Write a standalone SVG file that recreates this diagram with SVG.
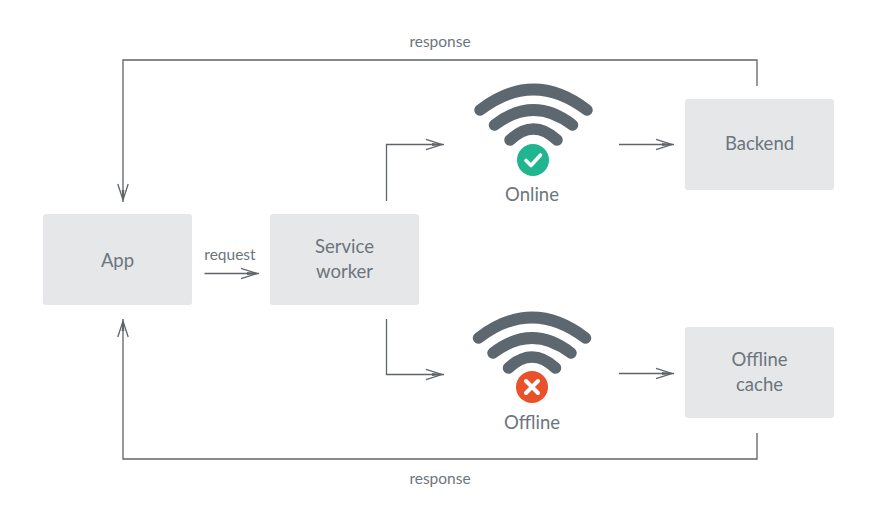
<svg xmlns="http://www.w3.org/2000/svg" width="880" height="519" viewBox="0 0 880 519">
<defs>
<marker id="arr" markerUnits="userSpaceOnUse" markerWidth="22" markerHeight="14" refX="20" refY="7" orient="auto">
<path d="M2 1.800 L18 7 L2 12.200 M18 7 L8 7" fill="none" stroke="#5f6468" stroke-width="1.300"/>
<path d="M18 7 L8 5.600 L8 8.400 Z" fill="#5f6468"/>
</marker>
<g id="wifi" fill="none" stroke="#5d6770" stroke-linecap="round" stroke-width="11.500">
<path d="M-53.500 -15 Q0 -56 53.500 -15"/>
<path d="M-39 0 Q0 -30 39 0"/>
<path d="M-23.500 15 Q0 -7 23.500 15"/>
</g>
</defs>
<style>
.n{fill:#e6e7e9}
.t{font-family:Lato,"Liberation Sans",sans-serif;font-size:18.500px;fill:#6c757c;text-anchor:middle}
.s{font-family:Lato,"Liberation Sans",sans-serif;font-size:15.500px;fill:#6c757c;text-anchor:middle}
.c{fill:none;stroke:#5f6468;stroke-width:1.300;marker-end:url(#arr)}
</style>
<rect width="880" height="519" fill="#fff"/>
<g id="connectors">
<path class="c" d="M757 86V60H123V202"/>
<path class="c" d="M757 433V459H123V319"/>
<path class="c" d="M204.500 273.500H259"/>
<path class="c" d="M386.500 201V144.500H444"/>
<path class="c" d="M386.500 319V374.500H444"/>
<path class="c" d="M619 144.500H674"/>
<path class="c" d="M619 373.500H674"/>
<text class="s" x="440" y="46.500">response</text>
<text class="s" x="440" y="483.500">response</text>
<text class="s" x="230" y="260">request</text>
</g>
<g id="app"><rect class="n" x="43" y="214" width="149" height="91" rx="3"/><text class="t" x="117.500" y="266.500">App</text></g>
<g id="service-worker"><rect class="n" x="270" y="214" width="149" height="91" rx="3"/><text class="t" x="344.500" y="253">Service</text><text class="t" x="344.500" y="278">worker</text></g>
<g id="backend"><rect class="n" x="685" y="99" width="149" height="91" rx="3"/><text class="t" x="759.500" y="150">Backend</text></g>
<g id="offline-cache"><rect class="n" x="685" y="327" width="149" height="91" rx="3"/><text class="t" x="759.500" y="366">Offline</text><text class="t" x="759.500" y="391">cache</text></g>
<g id="online">
<use href="#wifi" x="533.500" y="125"/>
<circle cx="533" cy="160" r="16" fill="#1fb58f"/>
<path d="M526 160.500L531 165.500L540.500 155" fill="none" stroke="#fff" stroke-width="3.600" stroke-linecap="round" stroke-linejoin="round"/>
<text class="t" x="532" y="201">Online</text>
</g>
<g id="offline">
<use href="#wifi" x="532" y="353"/>
<circle cx="532" cy="387" r="16" fill="#e9512b"/>
<path d="M526 381L538 393M538 381L526 393" fill="none" stroke="#fff" stroke-width="4" stroke-linecap="round"/>
<text class="t" x="532" y="429">Offline</text>
</g>
</svg>
